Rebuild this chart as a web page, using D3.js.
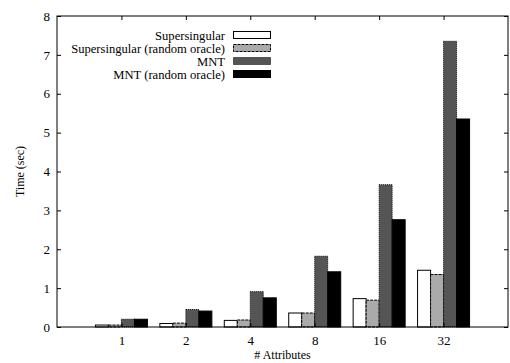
<!DOCTYPE html>
<html>
<head>
<meta charset="utf-8">
<script src="https://cdn.jsdelivr.net/npm/d3@7"></script>
<style>
  body { margin: 0; background: #fff; }
  text { font-family: "Liberation Serif", "DejaVu Serif", serif; font-size: 13px; fill: #000; }
</style>
</head>
<body>
<div id="chart"></div>
<script>
// categories (number of attributes)
var attributes = ["1", "2", "4", "8", "16", "32"];

// series
var seriesNames = ["Supersingular", "Supersingular (random oracle)", "MNT", "MNT (random oracle)"];
var supersingular   = [0.05, 0.09, 0.17, 0.36, 0.73, 1.46];
var supersingularRO = [0.05, 0.10, 0.18, 0.36, 0.69, 1.35];
var mnt             = [0.20, 0.45, 0.91, 1.82, 3.66, 7.35];
var mntRO           = [0.20, 0.41, 0.75, 1.42, 2.76, 5.35];
var seriesValues = [supersingular, supersingularRO, mnt, mntRO];

var yTicks = [0, 1, 2, 3, 4, 5, 6, 7, 8];

// styles per series
var fills   = ["#ffffff", "#aaaaaa", "#555555", "#000000"];
var dashes  = [null, "3,1", "1,1", null];

var width = 510, height = 363;
var margin = {top: 16, right: 2, bottom: 36, left: 57};

var svg = d3.select("#chart").append("svg")
    .attr("width", width)
    .attr("height", height);

var x = d3.scaleLinear()
    .domain([0, attributes.length + 1])
    .range([margin.left, width - margin.right]);

var y = d3.scaleLinear()
    .domain([0, 8])
    .range([height - margin.bottom, margin.top]);

var barW = 13;

// bars
seriesValues.forEach(function(vals, s) {
  svg.append("g").selectAll("rect")
    .data(vals)
    .enter().append("rect")
      .attr("x", function(d, i) { return x(i + 1) - 2 * barW + s * barW; })
      .attr("y", function(d) { return y(d); })
      .attr("width", barW)
      .attr("height", function(d) { return y(0) - y(d); })
      .attr("fill", fills[s])
      .attr("stroke", "#000")
      .attr("stroke-width", 1)
      .attr("stroke-dasharray", dashes[s]);
});

// frame
svg.append("rect")
    .attr("x", x(0))
    .attr("y", y(8))
    .attr("width", x(attributes.length + 1) - x(0))
    .attr("height", y(0) - y(8))
    .attr("fill", "none")
    .attr("stroke", "#000")
    .attr("stroke-width", 1);

// axes
var tickLen = 4;
var left = svg.append("g")
    .attr("transform", "translate(" + x(0) + ",0)")
    .call(d3.axisLeft(y).tickValues(yTicks).tickSizeInner(-tickLen).tickSizeOuter(0).tickPadding(7));
var right = svg.append("g")
    .attr("transform", "translate(" + x(attributes.length + 1) + ",0)")
    .call(d3.axisRight(y).tickValues(yTicks).tickSizeInner(-tickLen).tickSizeOuter(0).tickFormat(""));
var xb = svg.append("g")
    .attr("transform", "translate(0," + y(0) + ")")
    .call(d3.axisBottom(x).tickValues(d3.range(1, attributes.length + 1))
      .tickFormat(function(d) { return attributes[d - 1]; })
      .tickSizeInner(-tickLen).tickSizeOuter(0).tickPadding(9));
var xt = svg.append("g")
    .attr("transform", "translate(0," + y(8) + ")")
    .call(d3.axisTop(x).tickValues(d3.range(1, attributes.length + 1))
      .tickFormat("").tickSizeInner(-tickLen).tickSizeOuter(0));

[left, right, xb, xt].forEach(function(g) {
  g.select(".domain").remove();
  g.selectAll("text").style("font-family", "Liberation Serif, serif").style("font-size", "13px");
});

// axis titles
svg.append("text")
    .attr("transform", "translate(24," + ((y(0) + y(8)) / 2) + ") rotate(-90)")
    .attr("text-anchor", "middle")
    .style("font-size", "12px")
    .text("Time (sec)");
svg.append("text")
    .attr("x", (x(0) + x(attributes.length + 1)) / 2)
    .attr("y", 359)
    .attr("text-anchor", "middle")
    .style("font-size", "12px")
    .text("# Attributes");

// legend
var legend = svg.append("g");
seriesNames.forEach(function(name, s) {
  var ly = 35 + s * 13;
  legend.append("text")
      .attr("x", 225)
      .attr("y", ly + 4.5)
      .attr("text-anchor", "end")
      .style("font-size", "12.6px")
      .text(name);
  legend.append("rect")
      .attr("x", 233.5)
      .attr("y", ly - 3.5)
      .attr("width", 37)
      .attr("height", 7)
      .attr("fill", fills[s])
      .attr("stroke", "#000")
      .attr("stroke-dasharray", dashes[s]);
});
</script>
</body>
</html>
